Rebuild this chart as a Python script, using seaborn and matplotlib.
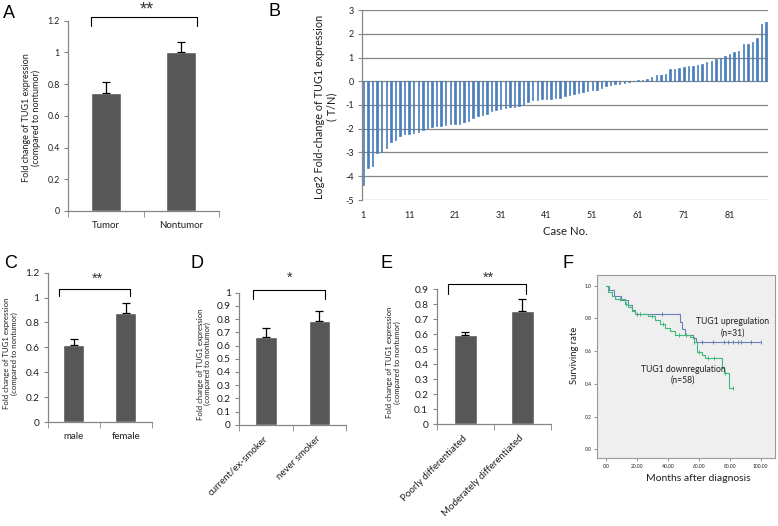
import matplotlib
matplotlib.use("Agg")
import matplotlib.pyplot as plt
import seaborn as sns
import numpy as np

# ---------------- data ----------------
a_cats = ["Tumor", "Nontumor"]
a_vals = [0.745, 1.0]
a_errs = [0.07, 0.065]

c_cats = ["male", "female"]
c_vals = [0.615, 0.879]
c_errs = [0.055, 0.075]

d_cats = ["current/ex-smoker", "never smoker"]
d_vals = [0.667, 0.788]
d_errs = [0.063, 0.076]

e_cats = ["Poorly differentiated", "Moderately differentiated"]
e_vals = [0.598, 0.758]
e_errs = [0.018, 0.075]

case_no = list(range(1, 90))
log2fc = [-4.38, -3.65, -3.56, -3.04, -2.97, -2.83, -2.55, -2.48, -2.31, -2.24,
          -2.20, -2.17, -2.15, -2.06, -1.95, -1.92, -1.89, -1.87, -1.85, -1.82,
          -1.81, -1.78, -1.72, -1.67, -1.54, -1.47, -1.43, -1.36, -1.25, -1.19,
          -1.15, -1.11, -1.09, -1.07, -1.05, -1.01, -0.87, -0.80, -0.77, -0.76,
          -0.74, -0.73, -0.70, -0.69, -0.63, -0.59, -0.55, -0.49, -0.45, -0.41,
          -0.38, -0.35, -0.27, -0.21, -0.17, -0.13, -0.10, -0.07, -0.03, -0.01,
          0.07, 0.07, 0.10, 0.18, 0.27, 0.27, 0.29, 0.53, 0.53, 0.56,
          0.60, 0.65, 0.65, 0.69, 0.74, 0.80, 0.84, 0.95, 1.00, 1.08,
          1.16, 1.23, 1.27, 1.58, 1.58, 1.67, 1.81, 2.40, 2.48]
b_xtick_labels = ["1", "11", "21", "31", "41", "51", "61", "71", "81"]

up_t = [0, 2, 5, 10, 14, 17, 19, 48, 49, 51, 56.5, 58, 100]
up_s = [1.0, 0.973, 0.937, 0.912, 0.88, 0.85, 0.827, 0.78, 0.733, 0.70, 0.68, 0.654, 0.654]
up_cens = [20, 36, 62, 69, 76, 79, 82, 85, 87, 94, 100]

down_t = [0, 1.5, 3.7, 5.8, 12.3, 14.4, 16.6, 18.8, 27.4, 31.7, 34.9, 38.1, 41.4,
          44.6, 54.3, 56.9, 58.6, 61.9, 64, 74.8, 76.3, 79.7, 81.9]
down_s = [1.0, 0.963, 0.937, 0.916, 0.89, 0.87, 0.847, 0.827, 0.815, 0.79, 0.766,
          0.743, 0.723, 0.70, 0.684, 0.658, 0.597, 0.576, 0.56, 0.499, 0.468, 0.377, 0.377]
down_cens = [9, 13, 22, 30, 37, 47, 52, 57, 60, 66, 70, 77, 81.9]

# ---------------- style ----------------
sns.set_style("white")
plt.rcParams["font.family"] = ["Lato", "DejaVu Sans"]

W, H = 778, 526
fig = plt.figure(figsize=(W / 100, H / 100), dpi=100)

GRAY = "#868686"
BAR = "#575757"
TXT = "#1f1f1f"


def box(x0, y0, x1, y1):
    return [x0 / W, 1 - y1 / H, (x1 - x0) / W, (y1 - y0) / H]


def bar_panel(rect, cats, vals, errs, ylim, yticks, yticklabels, ylabel, ylab_fs,
              ylab_xy, brk, star, star_xy, rot=0, xfs=7, yfs=7, star_fs=10):
    ax = fig.add_axes(box(*rect))
    sns.barplot(x=cats, y=vals, color=BAR, saturation=1, width=0.4,
                errorbar=None, ax=ax)
    n = len(vals)
    ax.errorbar(np.arange(n), vals, yerr=[np.zeros(n), errs], fmt="none",
                ecolor="black", elinewidth=0.9, capsize=3, capthick=0.9)
    ax.set_xlim(-0.5, n - 0.5)
    ax.set_ylim(*ylim)
    for s in ["top", "right"]:
        ax.spines[s].set_visible(False)
    for s in ["left", "bottom"]:
        ax.spines[s].set_color(GRAY)
        ax.spines[s].set_linewidth(0.9)
    ax.set_yticks(yticks)
    ax.set_yticklabels(yticklabels, fontsize=yfs, color=TXT)
    ax.tick_params(axis="y", left=True, length=3, color=GRAY, direction="out", pad=3)
    ax.set_xticks(np.arange(n))
    if rot:
        ax.set_xticklabels(cats, rotation=45, ha="right", va="center",
                           rotation_mode="anchor", fontsize=xfs, color=TXT)
        ax.tick_params(axis="x", which="major", length=0, pad=9)
    else:
        ax.set_xticklabels(cats, fontsize=xfs, color=TXT)
        ax.tick_params(axis="x", which="major", length=0, pad=7)
    ax.set_xticks(np.arange(n + 1) - 0.5, minor=True)
    ax.tick_params(axis="x", which="minor", bottom=True, length=4, color=GRAY,
                   direction="out")
    ax.set_xlabel("")
    ax.set_ylabel(ylabel, fontsize=ylab_fs, color=TXT, ha="center", va="center",
                  linespacing=1.1)
    ax.yaxis.set_label_coords(*ylab_xy)
    x0, x1, top, drop = brk
    ax.plot([x0, x0, x1, x1], [drop, top, top, drop], color="black", lw=0.8,
            clip_on=False)
    ax.text(star_xy[0], star_xy[1], star, ha="center", va="center",
            fontsize=star_fs, color="#333333", clip_on=False,
            family="Liberation Sans")
    return ax


ylab_txt = "Fold change of TUG1 expression\n(compared to nontumor)"

# Panel A
bar_panel((68, 20.7, 219, 211), a_cats, a_vals, a_errs, (0, 1.2),
          [0, 0.2, 0.4, 0.6, 0.8, 1.0, 1.2], ["0", "0.2", "0.4", "0.6", "0.8", "1", "1.2"],
          ylab_txt, 6.5, (-0.24, 0.49), (-0.19, 1.21, 1.225, 1.166), "**", (0.54, 1.265),
          xfs=7, yfs=6.3, star_fs=13)

# Panel C
bar_panel((47.7, 272.7, 151.7, 422), c_cats, c_vals, c_errs, (0, 1.2),
          [0, 0.2, 0.4, 0.6, 0.8, 1.0, 1.2], ["0", "0.2", "0.4", "0.6", "0.8", "1", "1.2"],
          ylab_txt, 5.6, (-0.36, 0.46), (-0.28, 1.08, 1.07, 1.01), "**", (0.45, 1.15),
          xfs=7, yfs=7.3, star_fs=10.5)

# Panel D
bar_panel((239.3, 292.7, 346, 424.7), d_cats, d_vals, d_errs, (0, 1.0),
          np.round(np.arange(0, 1.01, 0.1), 1),
          ["0", "0.1", "0.2", "0.3", "0.4", "0.5", "0.6", "0.7", "0.8", "0.9", "1"],
          ylab_txt, 5.6, (-0.33, 0.46), (-0.24, 1.11, 1.02, 0.95), "*", (0.44, 1.11),
          rot=45, xfs=7, yfs=7.3, star_fs=10.5)

# Panel E
bar_panel((436.7, 289.3, 550.7, 424.3), e_cats, e_vals, e_errs, (0, 0.9),
          np.round(np.arange(0, 0.91, 0.1), 1),
          ["0", "0.1", "0.2", "0.3", "0.4", "0.5", "0.6", "0.7", "0.8", "0.9"],
          ylab_txt, 5.6, (-0.38, 0.46), (-0.31, 1.06, 0.935, 0.87), "**", (0.4, 0.975),
          rot=45, xfs=7, yfs=7.3, star_fs=10.5)

# Panel B
axb = fig.add_axes(box(362, 10, 768, 200))
sns.barplot(x=case_no, y=log2fc, color="#4a7ebb", saturation=1, width=0.32,
            errorbar=None, ax=axb, edgecolor="#4a7ebb", linewidth=0.5)
axb.set_xlim(-0.3, 88.4)
axb.set_ylim(-5, 3)
axb.set_yticks(range(-5, 4))
axb.set_yticklabels([str(v) for v in range(-5, 4)], fontsize=6.5, color=TXT)
axb.yaxis.grid(True, color=GRAY, lw=0.9)
axb.set_axisbelow(True)
for s in ["top", "right", "bottom"]:
    axb.spines[s].set_visible(False)
axb.spines["left"].set_color(GRAY)
axb.spines["left"].set_linewidth(0.9)
axb.tick_params(axis="y", left=True, length=3, color=GRAY, direction="out", pad=3)
axb.set_xticks(range(0, 89, 10))
axb.set_xticklabels(b_xtick_labels, fontsize=6.5, color=TXT)
axb.tick_params(axis="x", length=0, pad=8)
axb.set_xlabel("Case No.", fontsize=8.2, color=TXT, va="top")
axb.xaxis.set_label_coords(0.5, -0.135)
axb.set_ylabel("Log2 Fold-change of TUG1 expression\n( T/N)", fontsize=7.8,
               color=TXT, ha="center", va="center", linespacing=1.1)
axb.yaxis.set_label_coords(-0.089, 0.49)

# Panel F
axf = fig.add_axes(box(597, 275, 775, 458.3))
axf.set_facecolor("#efefef")
sns.lineplot(x=up_t, y=up_s, drawstyle="steps-post", color="#6a80b9", lw=0.8,
             ax=axf, estimator=None)
sns.lineplot(x=down_t, y=down_s, drawstyle="steps-post", color="#3dbb7a", lw=0.8,
             ax=axf, estimator=None)


def step_at(ts, ss, q):
    idx = np.searchsorted(np.array(ts), np.array(q), side="right") - 1
    return np.array(ss)[idx]


axf.plot(up_cens, step_at(up_t, up_s, up_cens), ls="none", marker="|", ms=3,
         mew=0.7, color="#6a80b9")
axf.plot(down_cens, step_at(down_t, down_s, down_cens), ls="none", marker="|", ms=3,
         mew=0.7, color="#3dbb7a")
axf.set_xlim(-5.8, 109.2)
axf.set_ylim(-0.055, 1.065)
axf.set_xticks([0, 20, 40, 60, 80, 100])
axf.set_xticklabels([".00", "20.00", "40.00", "60.00", "80.00", "100.00"],
                    fontsize=3.6, color=TXT)
axf.set_yticks([0, 0.2, 0.4, 0.6, 0.8, 1.0])
axf.set_yticklabels(["0.0", "0.2", "0.4", "0.6", "0.8", "1.0"], fontsize=3.6, color=TXT)
axf.tick_params(axis="both", bottom=True, left=True, length=2, color="#999999",
                direction="out", pad=2)
for s in axf.spines.values():
    s.set_color("#9a9a9a")
    s.set_linewidth(0.8)
axf.set_ylabel("Surviving rate", fontsize=6.8, color=TXT, ha="center", va="center")
axf.yaxis.set_label_coords(-0.124, 0.56)
axf.set_xlabel("Months after diagnosis", fontsize=7.5, color=TXT, va="top")
axf.xaxis.set_label_coords(0.57, -0.085)
axf.text(82, 0.745, "TUG1 upregulation\n(n=31)", ha="center", va="center",
         fontsize=6.2, color=TXT, linespacing=1.3)
axf.text(49.8, 0.455, "TUG1 downregulation\n(n=58)", ha="center", va="center",
         fontsize=6.2, color=TXT, linespacing=1.3)

# panel letters
for lab, x, y in [("A", 3, 13.5), ("B", 269, 11), ("C", 4, 264), ("D", 190, 264),
                  ("E", 381, 264), ("F", 563, 264)]:
    fig.text(x / W, 1 - y / H, lab, ha="left", va="center", fontsize=13,
             family="Liberation Sans", color="black")

fig.savefig("out.png", dpi=100)
